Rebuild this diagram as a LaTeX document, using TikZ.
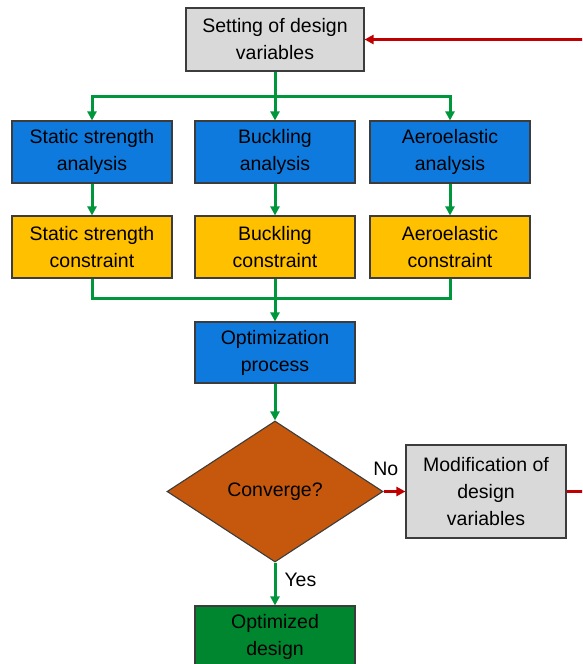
\documentclass[tikz,border=0pt]{standalone}
\usepackage{fontspec}
\setmainfont{Liberation Sans}
\usetikzlibrary{arrows.meta,shapes.geometric}

\definecolor{boxgray}{RGB}{217,217,217}
\definecolor{boxblue}{RGB}{14,122,222}
\definecolor{boxyellow}{RGB}{255,192,0}
\definecolor{boxorange}{RGB}{197,88,12}
\definecolor{boxgreen}{RGB}{0,134,46}
\definecolor{flowgreen}{RGB}{0,150,60}
\definecolor{flowred}{RGB}{192,0,0}
\definecolor{edgegray}{RGB}{60,60,60}

\tikzset{
  x=1pt, y=-1pt,
  base/.style={draw=edgegray, line width=1.1pt, align=center, inner sep=0pt,
    font=\fontsize{19.5}{27}\selectfont, text=black},
  block/.style={base, rectangle, minimum width=160pt, minimum height=62pt},
  graybox/.style={block, fill=boxgray},
  bluebox/.style={block, fill=boxblue},
  yellowbox/.style={block, fill=boxyellow},
  greenbox/.style={block, fill=boxgreen},
  decision/.style={base, diamond, fill=boxorange, minimum width=216pt, minimum height=141pt},
  flow/.style={draw=flowgreen, line width=3pt, -{Triangle[length=9pt,width=9pt]}},
  flowline/.style={draw=flowgreen, line width=3pt},
  loop/.style={draw=flowred, line width=3pt, -{Triangle[length=9pt,width=9pt]}},
  lbl/.style={font=\fontsize{19.5}{24}\selectfont, text=black, inner sep=0pt},
}

\begin{document}
\begin{tikzpicture}
\useasboundingbox (0,0) rectangle (582,664);
\fill[white] (0,0) rectangle (582,664);
\clip (0,0) rectangle (582,664);

% design variables
\node[graybox, minimum width=178pt, minimum height=63pt] (set) at (275,39.5) {Setting of design\\variables};

% analyses
\node[bluebox] (a1) at (92,152) {Static strength\\analysis};
\node[bluebox] (a2) at (275,152) {Buckling\\analysis};
\node[bluebox] (a3) at (450,152) {Aeroelastic\\analysis};

% constraints
\node[yellowbox] (c1) at (92,247) {Static strength\\constraint};
\node[yellowbox] (c2) at (275,247) {Buckling\\constraint};
\node[yellowbox] (c3) at (450,247) {Aeroelastic\\constraint};

% optimizer and convergence check
\node[bluebox, minimum height=61pt] (opt) at (275,352.5) {Optimization\\process};
\node[decision] (conv) at (275,491.5) {Converge?};
\node[graybox, minimum height=93pt] (mod) at (486,491.5) {Modification of\\design\\variables};
\node[greenbox] (res) at (275,637) {Optimized\\design};

% split to the three analyses
\coordinate (split) at (275,96.5);
\draw[flowline] (set.south) -- (split);
\draw[flow] (split) -- (a2.north);
\draw[flow] (split) -| (a1.north);
\draw[flow] (split) -| (a3.north);

% analysis -> constraint
\draw[flow] (a1) -- (c1);
\draw[flow] (a2) -- (c2);
\draw[flow] (a3) -- (c3);

% merge into the optimizer
\coordinate (merge) at (275,298);
\draw[flowline] (c1.south) |- (merge);
\draw[flowline] (c3.south) |- (merge);
\draw[flow] (c2.south) -- (opt.north);

\draw[flow] (opt) -- (conv);
\draw[flow] (conv.south) -- (res.north) node[lbl, pos=0.4, right=8pt] {Yes};

% feedback loop
\draw[loop] (conv.east) -- (mod.west) node[lbl, pos=0.1, above=14pt] {No};
\coordinate (back) at (600,491.5);
\draw[loop] (mod.east) -- (back) |- (set.east);
\end{tikzpicture}
\end{document}
